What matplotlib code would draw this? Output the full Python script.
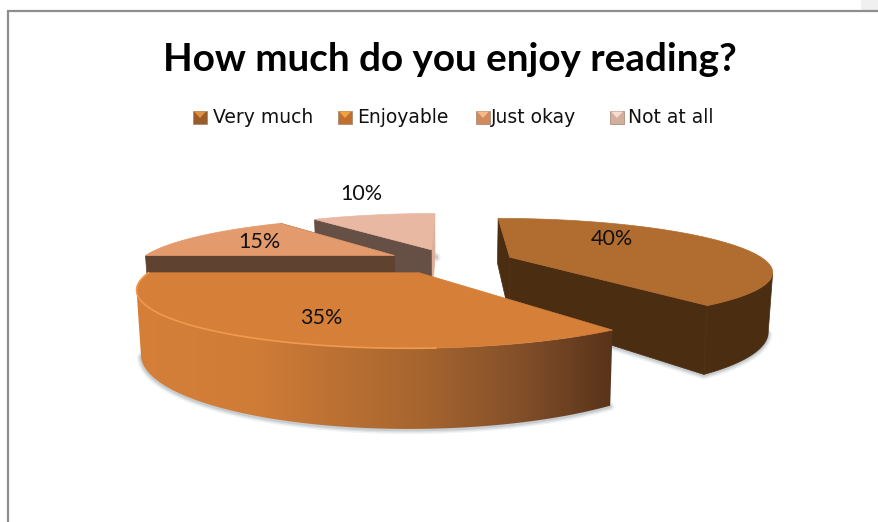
import numpy as np
import matplotlib
matplotlib.use('Agg')
import matplotlib.pyplot as plt
from matplotlib.colors import LinearSegmentedColormap
from matplotlib.patches import Polygon, Rectangle

# Данные диаграммы
categories = ['Very much', 'Enjoyable', 'Just okay', 'Not at all']
values = [40, 35, 15, 10]
labels = ['40%', '35%', '15%', '10%']

top_colors = ['#B16C30', '#D57F39', '#E39A6C', '#E9B8A3']
near_colors = ['#4B2D12', None, '#604230', '#665046']   # грань у начала сектора
far_colors = ['#4B2D12', None, '#604230', '#DDAE98']    # грань у конца сектора
rim_colors = ['#4B2D12', None, '#604230', '#665046']
legend_dark = ['#9A5C28', '#C0702E', '#D08A5E', '#D2AE9C']
legend_light = ['#E0913F', '#F5A040', '#F7B98A', '#F8DCCF']

label_pos = [(612, 239), (321, 318), (259, 242), (361, 194)]
legend_box_x = [193, 338, 476, 610]
legend_text_x = [213, 357, 491, 628]

# Параметры перспективы (пиксели)
CX, CY = 450, 261
RX, RY = 256, 50
PERSP = 0.245
DEPTH = 56.5
EXPLODE = 0.25
BOTTOM_SHRINK = 0.986
START_ANGLE = 90


def project(a, b, bottom=False):
    w = 1 + PERSP * b
    x = CX + RX * a / w
    y = CY - RY * b / w
    if bottom:
        x = CX + (x - CX) * BOTTOM_SHRINK
        y = y + DEPTH / w
    return x, y


fig = plt.figure(figsize=(8.79, 5.22), dpi=100)
ax = fig.add_axes([0, 0, 1, 1])
ax.axis('off')

# Рамка
ax.add_patch(Rectangle((861, 0), 18, 10, fc='#F0F0F0', ec='none', zorder=1))
ax.plot([8.5, 8.5, 879], [522, 11, 11], color='#8E8E8E', lw=1.6, zorder=2,
        solid_joinstyle='miter')

# Порядок отрисовки: дальние секторы раньше ближних
draw_order = [3, 2, 0, 1]
edges = START_ANGLE - np.cumsum([0] + values) * 3.6
z = 3

for i in draw_order:
    a0, a1 = edges[i], edges[i + 1]
    mid = np.radians((a0 + a1) / 2)
    ox, oy = EXPLODE * np.cos(mid), EXPLODE * np.sin(mid)
    t = np.radians(np.linspace(a0, a1, 160))
    a = ox + np.cos(t)
    b = oy + np.sin(t)

    top_x, top_y = project(a, b)
    bot_x, bot_y = project(a, b, bottom=True)
    apex_top = project(ox, oy)
    apex_bot = project(ox, oy, bottom=True)

    # Видна только часть дуги, обращённая к зрителю
    front = np.gradient(top_x) < 0

    # Мягкая тень вдоль нижнего края
    shadow_x = bot_x[front]
    shadow_y = bot_y[front]
    if i == 0:
        shadow_x = np.r_[shadow_x, apex_bot[0]]
        shadow_y = np.r_[shadow_y, apex_bot[1]]
    if i == 3:
        shadow_x = np.r_[top_x[-1], bot_x[-1]] + 1.5
        shadow_y = np.r_[top_y[-1] + 42, bot_y[-1]]
    if len(shadow_x):
        for lw, alpha in [(6, 0.10), (4, 0.16), (2, 0.25)]:
            ax.plot(shadow_x, shadow_y + 1, color='#7F8C94', lw=lw, alpha=alpha,
                    zorder=z, solid_capstyle='round')
        z += 1

    # Внешняя боковая поверхность
    if front.any():
        band = np.c_[np.r_[top_x[front], bot_x[front][::-1]],
                     np.r_[top_y[front], bot_y[front][::-1]]]
        if rim_colors[i] is None:
            grad = LinearSegmentedColormap.from_list(
                'side', [(0, '#D57F39'), (0.25, '#CF7C37'), (0.6, '#A6652F'),
                         (0.8, '#84502A'), (1, '#59331A')])
            clip = Polygon(band, closed=True, fc='none', ec='none', zorder=z)
            ax.add_patch(clip)
            im = ax.imshow(np.linspace(0, 1, 256)[None, :], cmap=grad, aspect='auto',
                           extent=(band[:, 0].min(), band[:, 0].max(),
                                   band[:, 1].max(), band[:, 1].min()), zorder=z)
            im.set_clip_path(clip)
        else:
            ax.add_patch(Polygon(band, closed=True, fc=rim_colors[i], ec=rim_colors[i],
                                 lw=0.5, zorder=z))
        z += 1

    # Радиальные грани
    for end, color in [(-1, far_colors[i]), (0, near_colors[i])]:
        if color is None:
            continue
        face = [apex_top, (top_x[end], top_y[end]), (bot_x[end], bot_y[end]), apex_bot]
        ax.add_patch(Polygon(face, closed=True, fc=color, ec=color, lw=0.5, zorder=z))
        z += 1

    # Верхняя грань
    ax.add_patch(Polygon(np.r_[[apex_top], np.c_[top_x, top_y]], closed=True,
                         fc=top_colors[i], ec=top_colors[i], lw=0.5, zorder=z))
    z += 1

    if rim_colors[i] is None:
        # Светлая кромка на ближнем секторе
        ax.plot(top_x[40:], top_y[40:], color='#F09A50', lw=1.2, zorder=z)
        z += 1

# Подписи значений
for (x, y), text in zip(label_pos, labels):
    ax.text(x, y, text, fontsize=15.5, family='Lato', color='#111111',
            ha='center', va='center', zorder=z)

# Заголовок
ax.text(450, 59.5, 'How much do you enjoy reading?', fontsize=27.8, family='Lato',
        fontweight='bold', color='black', ha='center', va='center', zorder=z)

# Легенда
for name, bx, tx, dark, light in zip(categories, legend_box_x, legend_text_x,
                                     legend_dark, legend_light):
    ax.add_patch(Rectangle((bx, 110.5), 14, 13, fc=dark, ec='#A08070', lw=0.5, zorder=z))
    ax.add_patch(Polygon([(bx + 1, 111.5), (bx + 13, 111.5), (bx + 7, 118)], closed=True,
                         fc=light, ec='none', zorder=z + 1))
    ax.text(tx, 117.5, name, fontsize=13.5, family='DejaVu Sans', color='#111111',
            ha='left', va='center', zorder=z)

ax.set_xlim(0, 879)
ax.set_ylim(522, 0)

fig.savefig('out.png', dpi=100)
